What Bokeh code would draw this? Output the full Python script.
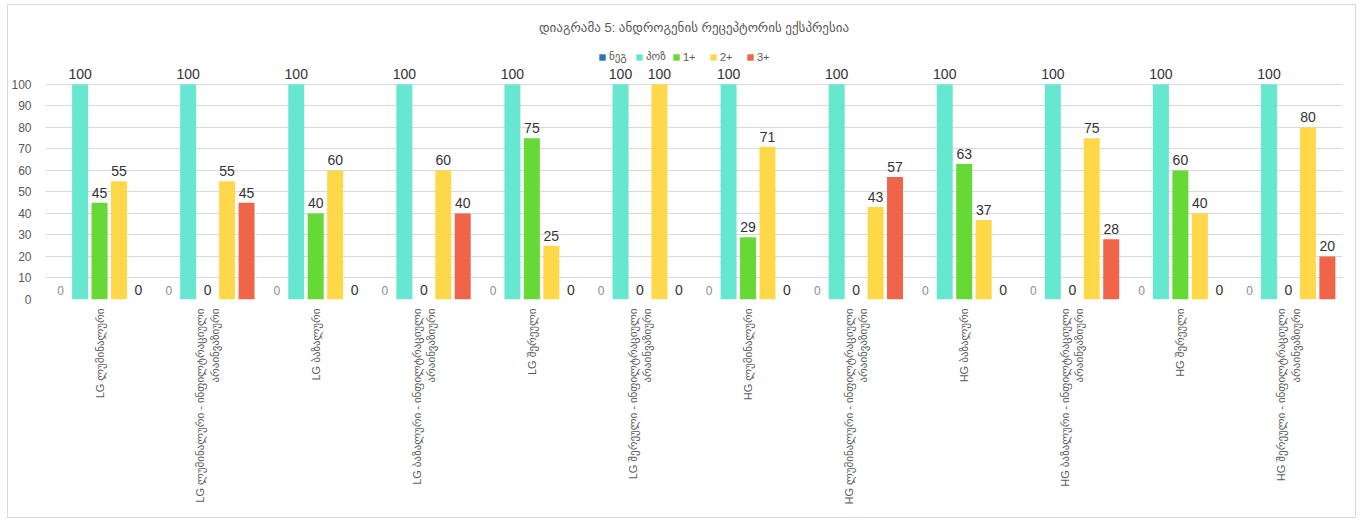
import math
from bokeh.plotting import figure
from bokeh.models import ColumnDataSource, FactorRange, Range1d, FixedTicker, Legend, LegendItem, Label
from bokeh.transform import dodge
from bokeh.core.properties import value
from bokeh.embed import file_html
from bokeh.resources import INLINE

categories = [
    "LG ლუმინალური",
    "LG ლუმინალური - ინფილტრაციული\nარაინვაზიური",
    "LG ბაზალური",
    "LG ბაზალური - ინფილტრაციული\nარაინვაზიური",
    "LG შერეული",
    "LG შერეული - ინფილტრაციული\nარაინვაზიური",
    "HG ლუმინალური",
    "HG ლუმინალური - ინფილტრაციული\nარაინვაზიური",
    "HG ბაზალური",
    "HG ბაზალური - ინფილტრაციული\nარაინვაზიური",
    "HG შერეული",
    "HG შერეული - ინფილტრაციული\nარაინვაზიური",
]
series_names = ["ნეგ", "პოზ", "1+", "2+", "3+"]
neg = [0, 0, 0, 0, 0, 0, 0, 0, 0, 0, 0, 0]
poz = [100, 100, 100, 100, 100, 100, 100, 100, 100, 100, 100, 100]
plus1 = [45, 0, 40, 0, 75, 0, 29, 0, 63, 0, 60, 0]
plus2 = [55, 55, 60, 60, 25, 100, 71, 43, 37, 75, 40, 80]
plus3 = [0, 45, 0, 40, 0, 0, 0, 57, 0, 28, 0, 20]
y_ticks = [0, 10, 20, 30, 40, 50, 60, 70, 80, 90, 100]
title_text = "დიაგრამა 5: ანდროგენის რეცეპტორის ექსპრესია"

series_values = [neg, poz, plus1, plus2, plus3]
colors = ["#2E75B6", "#66E8D0", "#66D936", "#FFD84A", "#F0654A"]
offsets = [-0.36, -0.18, 0.0, 0.18, 0.36]

FONT = "'Liberation Sans', 'DejaVu Sans', sans-serif"

data = {"cat": categories}
for i, s in enumerate(series_values):
    data["s%d" % i] = s
    data["t%d" % i] = [str(v) for v in s]
src = ColumnDataSource(data)

p = figure(width=1349, height=514, x_range=FactorRange(*categories, range_padding=0),
           y_range=Range1d(0, 134.4), output_backend="svg", toolbar_location=None,
           min_border_left=37, min_border_right=15, min_border_top=5, min_border_bottom=220,
           styles={"margin-left": "7px", "margin-top": "4px", "border": "1px solid #d9d9d9"})
p.outline_line_color = None
p.background_fill_color = "white"
p.border_fill_color = "white"

items = []
for i in range(5):
    r = p.vbar(x=dodge("cat", offsets[i], range=p.x_range), top="s%d" % i, width=0.148,
               source=src, fill_color=colors[i], line_color=None)
    items.append(LegendItem(label=series_names[i], renderers=[r]))
    if i == 0:
        tc, fs = "#8c8c8c", "12px"
    else:
        tc, fs = "#333333", "14px"
    p.text(x=dodge("cat", offsets[i], range=p.x_range), y="s%d" % i, text="t%d" % i, source=src,
           text_align="center", text_baseline="bottom", y_offset=-5,
           text_font=value(FONT), text_font_size=fs, text_color=tc)

legend = Legend(items=items, orientation="horizontal", location=(553, 236),
                glyph_width=8, glyph_height=8, label_text_font_size="11px",
                label_text_color="#595959", label_text_font=FONT, spacing=6,
                label_standoff=3, padding=0, margin=0, border_line_color=None,
                background_fill_alpha=0, label_height=12)
p.add_layout(legend, "center")

p.add_layout(Label(x=6, y=126.5, text=title_text, text_align="center", text_baseline="middle",
                   text_font=FONT, text_font_size="13px", text_color="#595959"))

p.xgrid.grid_line_color = None
p.ygrid.grid_line_color = "#d9d9d9"
p.yaxis.ticker = FixedTicker(ticks=y_ticks)
p.yaxis.axis_line_color = None
p.yaxis.major_tick_line_color = None
p.yaxis.minor_tick_line_color = None
p.yaxis.major_label_text_font = FONT
p.yaxis.major_label_text_font_size = "12px"
p.yaxis.major_label_text_color = "#595959"
p.yaxis.major_label_standoff = 8

p.xaxis.axis_line_color = None
p.xaxis.major_tick_line_color = None
p.xaxis.major_label_orientation = math.pi / 2
p.xaxis.major_label_text_font = FONT
p.xaxis.major_label_text_font_size = "11px"
p.xaxis.major_label_text_color = "#595959"
p.xaxis.major_label_standoff = 3

open("out.html", "w").write(file_html(p, INLINE))
